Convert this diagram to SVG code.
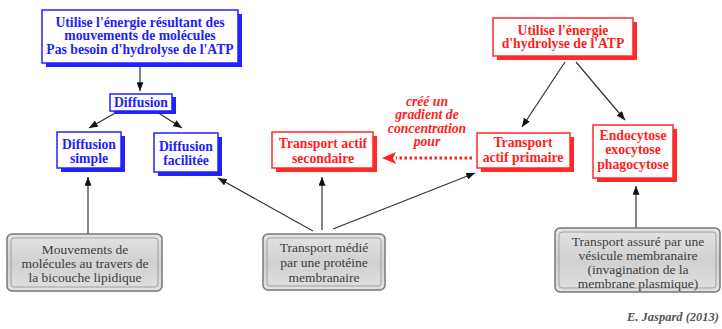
<svg xmlns="http://www.w3.org/2000/svg" width="722" height="329" viewBox="0 0 722 329">
<defs>
<marker id="ah" viewBox="0 0 10 8" refX="10" refY="4" markerWidth="9" markerHeight="7" markerUnits="userSpaceOnUse" orient="auto">
<path d="M0,0 L10,4 L0,8 z" fill="#111"/>
</marker>
<linearGradient id="gg" x1="0" y1="0" x2="0" y2="1">
<stop offset="0" stop-color="#e4e4e4"/>
<stop offset="0.5" stop-color="#d0d0d0"/>
<stop offset="1" stop-color="#e0e0e0"/>
</linearGradient>
</defs>
<style>
.bs{fill:#2222ff}
.bb{fill:#fff;stroke:#2222ff;stroke-width:1.5}
.rs{fill:#ff2a2a}
.rb{fill:#fff;stroke:#ff2a2a;stroke-width:1.5}
.bt{font-family:"Liberation Serif","Times New Roman",serif;font-weight:bold;font-size:13.7px;fill:#1e1eff;text-anchor:middle}
.rt{font-family:"Liberation Serif","Times New Roman",serif;font-weight:bold;font-size:13.7px;fill:#ff1e1e;text-anchor:middle}
.lt{font-family:"Liberation Serif","Times New Roman",serif;font-weight:bold;font-style:italic;font-size:13.7px;fill:#ff1e1e;text-anchor:middle}
.gbo{fill:url(#gg);stroke:#777;stroke-width:1.5}
.gbi{fill:none;stroke:#a0a0a0;stroke-width:1}
.gt{font-family:"Liberation Serif","Times New Roman",serif;font-size:13.5px;fill:#404040;text-anchor:middle}
.gh{font-family:"Liberation Serif","Times New Roman",serif;font-size:13.5px;fill:#ffffff;text-anchor:middle}
.ln{stroke:#333;stroke-width:1.2;fill:none;marker-end:url(#ah)}
.sig{font-family:"Liberation Serif","Times New Roman",serif;font-weight:bold;font-style:italic;font-size:12.5px;fill:#555;text-anchor:end}
</style>
<rect width="722" height="329" fill="#fff"/>

<g id="connectors">
<line class="ln" x1="140" y1="64" x2="140" y2="91"/>
<line class="ln" x1="117" y1="112" x2="89" y2="128"/>
<line class="ln" x1="157" y1="112" x2="182" y2="128"/>
<line class="ln" x1="565" y1="62" x2="522" y2="127"/>
<line class="ln" x1="576" y1="62" x2="625" y2="120"/>
<line class="ln" x1="88" y1="234" x2="88" y2="177"/>
<line class="ln" x1="313" y1="231" x2="218" y2="178"/>
<line class="ln" x1="322" y1="230" x2="322" y2="177"/>
<line class="ln" x1="333" y1="229" x2="475" y2="173"/>
<line class="ln" x1="636" y1="228" x2="636" y2="186"/>
<line x1="472" y1="158" x2="396" y2="158" stroke="#ff2020" stroke-width="3" stroke-dasharray="2.5,2.5"/>
<path d="M382,158 L396,152 L393,158 L396,164 z" fill="#ff2020"/>
</g>

<g id="top-blue">
<rect class="bs" x="46" y="14" width="196" height="53"/>
<rect class="bb" x="42" y="10" width="196" height="53"/>
<text class="bt" x="140" y="26.5">Utilise l'énergie résultant des</text>
<text class="bt" x="140" y="40">mouvements de molécules</text>
<text class="bt" x="140" y="53.5">Pas besoin d'hydrolyse de l'ATP</text>
</g>

<g id="diffusion">
<rect class="bs" x="114" y="97" width="62" height="17"/>
<rect class="bb" x="110" y="94" width="62" height="17"/>
<text class="bt" x="141" y="107">Diffusion</text>
</g>

<g id="diffusion-simple">
<rect class="bs" x="61" y="136" width="64" height="36"/>
<rect class="bb" x="57" y="132" width="64" height="36"/>
<text class="bt" x="89" y="148.5">Diffusion</text>
<text class="bt" x="89" y="163">simple</text>
</g>

<g id="diffusion-facilitee">
<rect class="bs" x="158" y="137" width="64" height="39"/>
<rect class="bb" x="154" y="133" width="64" height="39"/>
<text class="bt" x="186" y="150.5">Diffusion</text>
<text class="bt" x="186" y="165">facilitée</text>
</g>

<g id="top-red">
<rect class="rs" x="497" y="22" width="140" height="38"/>
<rect class="rb" x="493" y="18" width="140" height="38"/>
<text class="rt" x="563" y="34.5">Utilise l'énergie</text>
<text class="rt" x="563" y="48">d'hydrolyse de l'ATP</text>
</g>

<g id="actif-secondaire">
<rect class="rs" x="276" y="136" width="101" height="36"/>
<rect class="rb" x="272" y="132" width="101" height="36"/>
<text class="rt" x="323" y="148">Transport actif</text>
<text class="rt" x="323" y="163">secondaire</text>
</g>

<g id="actif-primaire">
<rect class="rs" x="481" y="137" width="93" height="35"/>
<rect class="rb" x="477" y="133" width="93" height="35"/>
<text class="rt" x="523" y="147">Transport</text>
<text class="rt" x="523" y="162">actif primaire</text>
</g>

<g id="endocytose">
<rect class="rs" x="597" y="129" width="80" height="53"/>
<rect class="rb" x="593" y="125" width="80" height="53"/>
<text class="rt" x="633" y="139.5">Endocytose</text>
<text class="rt" x="633" y="154">exocytose</text>
<text class="rt" x="633" y="168.5">phagocytose</text>
</g>

<g id="label-gradient">
<text class="lt" x="427" y="105.5">créé un</text>
<text class="lt" x="427" y="119">gradient de</text>
<text class="lt" x="427" y="132.5">concentration</text>
<text class="lt" x="427" y="146">pour</text>
</g>

<g id="gray-bicouche">
<rect class="gbo" x="7" y="234" width="155" height="57" rx="5"/>
<rect class="gbi" x="11" y="238" width="147" height="49" rx="3"/>
<text class="gt" x="85" y="254">Mouvements de</text>
<text class="gt" x="85" y="268">molécules au travers de</text>
<text class="gt" x="85" y="282">la bicouche lipidique</text>
</g>

<g id="gray-proteine">
<rect class="gbo" x="263" y="234" width="122" height="56" rx="5"/>
<rect class="gbi" x="267" y="238" width="114" height="48" rx="3"/>
<text class="gt" x="324" y="252">Transport médié</text>
<text class="gt" x="324" y="267">par une protéine</text>
<text class="gt" x="324" y="282">membranaire</text>
</g>

<g id="gray-vesicule">
<rect class="gbo" x="555" y="228" width="165" height="64" rx="5"/>
<rect class="gbi" x="559" y="232" width="157" height="56" rx="3"/>
<text class="gt" x="638" y="246">Transport assuré par une</text>
<text class="gt" x="638" y="260">vésicule membranaire</text>
<text class="gt" x="638" y="274">(invagination de la</text>
<text class="gt" x="638" y="288">membrane plasmique)</text>
</g>

<text class="sig" x="719" y="321">E. Jaspard (2013)</text>
</svg>
